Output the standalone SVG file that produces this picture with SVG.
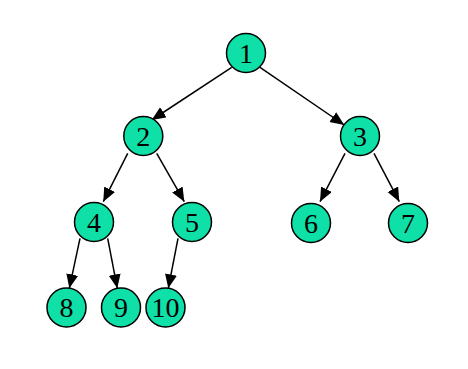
<svg xmlns="http://www.w3.org/2000/svg" width="468" height="369" viewBox="0 0 468 369">
<defs>
<style>
.n circle{fill:#0EE0A8;stroke:#000;stroke-width:1.5}
.n text{font-family:"Liberation Serif",serif;font-size:28px;text-anchor:middle;fill:#000}
.e line{stroke:#000;stroke-width:1.5;marker-end:url(#ah)}
</style>
<marker id="ah" markerUnits="userSpaceOnUse" markerWidth="15" markerHeight="13" refX="14" refY="6" orient="auto">
<path d="M0,0 L14,6 L0,12 z" fill="#000"/>
</marker>
</defs>
<rect width="468" height="369" fill="#fff"/>
<g id="edges" class="e">
<line x1="231.7" y1="67.3" x2="151.7" y2="120"/>
<line x1="260" y1="67.3" x2="344.3" y2="125"/>
<line x1="127.7" y1="153.3" x2="103.3" y2="201.7"/>
<line x1="156.7" y1="153.3" x2="184.3" y2="201.7"/>
<line x1="345" y1="153.3" x2="320" y2="201.7"/>
<line x1="374" y1="153.3" x2="399.3" y2="201.7"/>
<line x1="80" y1="238.3" x2="69.3" y2="288.3"/>
<line x1="107.7" y1="238.3" x2="117.3" y2="288.3"/>
<line x1="178" y1="238.3" x2="168.3" y2="288.3"/>
</g>
<g id="n1" class="n"><circle cx="246" cy="53" r="19.5"/><text x="246" y="62.5">1</text></g>
<g id="n2" class="n"><circle cx="143.3" cy="136" r="19.5"/><text x="143.3" y="145.5">2</text></g>
<g id="n3" class="n"><circle cx="360" cy="136" r="19.5"/><text x="360" y="145.5">3</text></g>
<g id="n4" class="n"><circle cx="94" cy="222" r="19.5"/><text x="94" y="231.5">4</text></g>
<g id="n5" class="n"><circle cx="192" cy="222" r="19.5"/><text x="192" y="231.5">5</text></g>
<g id="n6" class="n"><circle cx="311" cy="223" r="19.5"/><text x="311" y="232.5">6</text></g>
<g id="n7" class="n"><circle cx="408" cy="223" r="19.5"/><text x="408" y="232.5">7</text></g>
<g id="n8" class="n"><circle cx="66.5" cy="307.5" r="19.5"/><text x="66.5" y="317">8</text></g>
<g id="n9" class="n"><circle cx="121" cy="307.5" r="19.5"/><text x="121" y="317">9</text></g>
<g id="n10" class="n"><circle cx="165.5" cy="307.5" r="19.5"/><text x="165.5" y="317">10</text></g>
</svg>
